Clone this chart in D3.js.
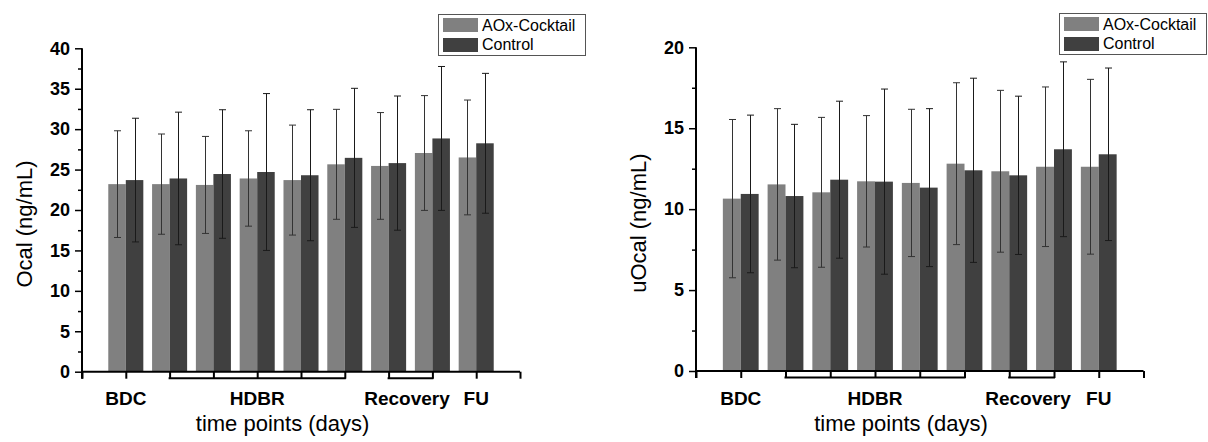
<!DOCTYPE html>
<html>
<head>
<meta charset="utf-8">
<script src="https://cdn.jsdelivr.net/npm/d3@7"></script>
<style>
  html, body { margin: 0; padding: 0; background: #fff; }
  svg { display: block; font-family: Arial, "Liberation Sans", sans-serif; }
</style>
</head>
<body>
<svg id="chart" width="1208" height="442"></svg>
<script>
// ---------------- data ----------------
const timePoints = [1, 2, 3, 4, 5, 6, 7, 8, 9];           // 9 sampling time points
const seriesNames = ["AOx-Cocktail", "Control"];
const phaseLabels = ["BDC", "HDBR", "Recovery", "FU"];
const phaseLabelPos = [1, 4, 7.42, 9];
const phaseBrackets = [[2, 6], [7, 8]];
const axisTickPos = [0, 1, 2, 3, 4, 5, 6, 7, 8, 9, 10];

// Ocal (ng/mL)
const ocalAOx      = [23.2, 23.2, 23.1, 23.9, 23.7, 25.65, 25.45, 27.05, 26.5];
const ocalAOxSD    = [6.6, 6.2, 6.0, 5.9, 6.8, 6.8, 6.6, 7.1, 7.1];
const ocalControl  = [23.7, 23.9, 24.45, 24.7, 24.3, 26.45, 25.8, 28.85, 28.25];
const ocalControlSD= [7.65, 8.2, 7.95, 9.7, 8.1, 8.6, 8.3, 8.9, 8.65];
const ocalTicks    = [0, 5, 10, 15, 20, 25, 30, 35, 40];

// uOcal (ng/mL)
const uocalAOx      = [10.65, 11.53, 11.04, 11.72, 11.62, 12.81, 12.34, 12.62, 12.62];
const uocalAOxSD    = [4.89, 4.68, 4.63, 4.06, 4.55, 5.0, 5.0, 4.93, 5.4];
const uocalControl  = [10.94, 10.81, 11.82, 11.70, 11.33, 12.4, 12.09, 13.7, 13.39];
const uocalControlSD= [4.87, 4.43, 4.85, 5.72, 4.88, 5.69, 4.89, 5.4, 5.33];
const uocalTicks    = [0, 5, 10, 15, 20];

// ---------------- drawing ----------------
const colors = ["#808080", "#404040"];
const svg = d3.select("#chart");

const panels = [
  { x0: 82, x1: 520, yTop: 48.3, yBot: 371.7, yMax: 40, minorStep: 2.5,
    ticks: ocalTicks, yLabel: "Ocal (ng/mL)", yLabelX: 24,
    means: [ocalAOx, ocalControl], sds: [ocalAOxSD, ocalControlSD],
    legend: { x: 438, y: 14, w: 147, h: 41 } },
  { x0: 696, x1: 1143.5, yTop: 47.3, yBot: 371, yMax: 20, minorStep: 2.5,
    ticks: uocalTicks, yLabel: "uOcal (ng/mL)", yLabelX: 638,
    means: [uocalAOx, uocalControl], sds: [uocalAOxSD, uocalControlSD],
    legend: { x: 1059, y: 13, w: 147, h: 41 } }
];

panels.forEach(p => {
  const x = d3.scaleLinear().domain([0, 10]).range([p.x0, p.x1]);
  const y = d3.scaleLinear().domain([0, p.yMax]).range([p.yBot, p.yTop]);
  const g = svg.append("g");
  const bw = x(0.4) - x(0);

  // bars
  p.means.forEach((vals, s) => {
    g.append("g").selectAll("rect").data(vals).enter().append("rect")
      .attr("x", (d, i) => s === 0 ? x(timePoints[i]) - bw : x(timePoints[i]))
      .attr("y", d => y(d))
      .attr("width", bw)
      .attr("height", d => y(0) - y(d))
      .attr("fill", colors[s]);
  });

  // error bars
  p.means.forEach((vals, s) => {
    const eg = g.append("g").attr("stroke", s === 0 ? "#333" : "#1a1a1a").attr("stroke-width", 1);
    vals.forEach((m, i) => {
      const cx = Math.round(s === 0 ? x(timePoints[i]) - bw / 2 : x(timePoints[i]) + bw / 2) + 0.5;
      const hi = y(m + p.sds[s][i]), lo = y(m - p.sds[s][i]);
      eg.append("line").attr("x1", cx).attr("x2", cx).attr("y1", hi).attr("y2", lo);
      eg.append("line").attr("x1", cx - 3.5).attr("x2", cx + 3.5).attr("y1", hi).attr("y2", hi);
      eg.append("line").attr("x1", cx - 3.5).attr("x2", cx + 3.5).attr("y1", lo).attr("y2", lo);
    });
  });

  // y axis: minor ticks
  const minorVals = d3.range(0, p.yMax + 0.001, p.minorStep).filter(v => !p.ticks.includes(v));
  const minorAxis = d3.axisLeft(y).tickValues(minorVals).tickSize(4).tickFormat("");
  const gm = g.append("g").attr("transform", `translate(${p.x0},0)`).call(minorAxis);
  gm.select(".domain").remove();
  gm.selectAll(".tick line").attr("stroke", "#000").attr("stroke-width", 1.5);

  // y axis: major ticks
  const yAxis = d3.axisLeft(y).tickValues(p.ticks).tickSize(7).tickPadding(5).tickFormat(d3.format("d"));
  const gy = g.append("g").attr("transform", `translate(${p.x0},0)`).call(yAxis);
  gy.select(".domain").remove();
  gy.selectAll(".tick line").attr("stroke", "#000").attr("stroke-width", 1.5);
  gy.selectAll(".tick text").attr("font-size", 18).attr("font-weight", "bold")
    .attr("font-family", "Arial, 'Liberation Sans', sans-serif").attr("fill", "#000");

  // y axis line (extends slightly below x axis)
  g.append("line").attr("x1", p.x0).attr("x2", p.x0).attr("y1", p.yTop).attr("y2", p.yBot + 7)
    .attr("stroke", "#000").attr("stroke-width", 2);

  // x axis: ticks at every position, drawn downward
  const xAxis = d3.axisBottom(x).tickValues(axisTickPos).tickSize(7).tickFormat("");
  const gx = g.append("g").attr("transform", `translate(0,${p.yBot})`).call(xAxis);
  gx.select(".domain").remove();
  gx.selectAll(".tick line").attr("stroke", "#000").attr("stroke-width", 2);
  g.append("line").attr("x1", p.x0).attr("x2", p.x1).attr("y1", p.yBot).attr("y2", p.yBot)
    .attr("stroke", "#000").attr("stroke-width", 2);

  // brackets
  phaseBrackets.forEach(b => {
    g.append("line").attr("x1", x(b[0]) - 1).attr("x2", x(b[1]) + 1)
      .attr("y1", p.yBot + 6.5).attr("y2", p.yBot + 6.5)
      .attr("stroke", "#000").attr("stroke-width", 2);
  });

  // phase labels
  g.append("g").selectAll("text").data(phaseLabels).enter().append("text")
    .attr("x", (d, i) => x(phaseLabelPos[i]))
    .attr("y", p.yBot + 33.5)
    .attr("text-anchor", "middle")
    .attr("font-size", 19).attr("font-weight", "bold").attr("fill", "#000")
    .text(d => d);

  // x title
  g.append("text").attr("x", x(4.58)).attr("y", p.yBot + 59.5)
    .attr("text-anchor", "middle").attr("font-size", 22).attr("fill", "#000")
    .text("time points (days)");

  // y title
  g.append("text")
    .attr("transform", `translate(${p.yLabelX},${(p.yTop + p.yBot) / 2 + 14}) rotate(-90)`)
    .attr("text-anchor", "middle").attr("dy", "0.35em")
    .attr("font-size", 22).attr("fill", "#000")
    .text(p.yLabel);

  // legend
  const L = p.legend;
  const lg = g.append("g");
  lg.append("rect").attr("x", L.x + 0.5).attr("y", L.y + 0.5).attr("width", L.w).attr("height", L.h)
    .attr("fill", "#fff").attr("stroke", "#555").attr("stroke-width", 1);
  seriesNames.forEach((name, s) => {
    lg.append("rect").attr("x", L.x + 5).attr("y", L.y + 4 + s * 20).attr("width", 35).attr("height", 14)
      .attr("fill", colors[s]);
    lg.append("text").attr("x", L.x + 44).attr("y", L.y + 17 + s * 19)
      .attr("font-size", 16).attr("fill", "#000").text(name);
  });
});
</script>
</body>
</html>
